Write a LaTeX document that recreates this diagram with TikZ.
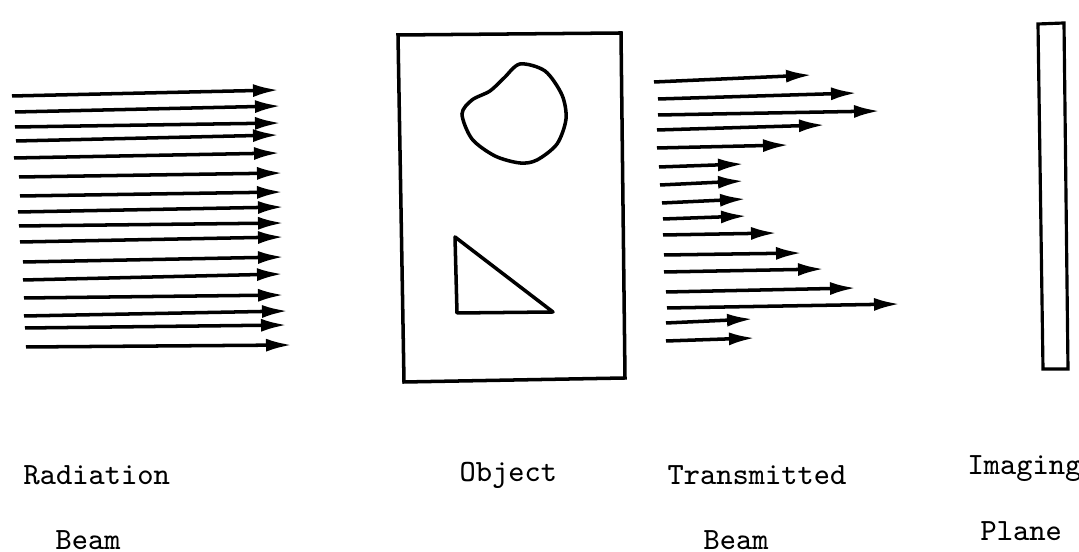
\documentclass[tikz,border=0pt]{standalone}
\usepackage{fontspec}
\usetikzlibrary{arrows.meta}
\begin{document}
\begin{tikzpicture}[>={Latex[length=2.6mm,width=1.3mm]},
	ray/.style={->, line width=1pt},
	txt/.style={font=\fontsize{8.8}{10}\ttfamily, inner sep=0pt, anchor=base west}]
	\useasboundingbox (0,0) rectangle (10.79,5.52);
	
	% Radiation beam
	\draw[ray] (0.12,4.56) -- (2.79,4.62);
	\draw[ray] (0.15,4.40) -- (2.81,4.46);
	\draw[ray] (0.15,4.25) -- (2.81,4.29);
	\draw[ray] (0.16,4.11) -- (2.79,4.17);
	\draw[ray] (0.14,3.94) -- (2.80,3.99);
	\draw[ray] (0.19,3.75) -- (2.83,3.79);
	\draw[ray] (0.20,3.56) -- (2.83,3.60);
	\draw[ray] (0.18,3.40) -- (2.84,3.45);
	\draw[ray] (0.19,3.26) -- (2.84,3.29);
	\draw[ray] (0.20,3.10) -- (2.84,3.15);
	\draw[ray] (0.23,2.90) -- (2.84,2.95);
	\draw[ray] (0.23,2.72) -- (2.83,2.78);
	\draw[ray] (0.24,2.54) -- (2.84,2.57);
	\draw[ray] (0.24,2.36) -- (2.88,2.41);
	\draw[ray] (0.25,2.24) -- (2.87,2.27);
	\draw[ray] (0.26,2.05) -- (2.92,2.07);
	\node[txt] (radtext) at (0.23,0.67) {Radiation};
	\node[txt] (radbeam) at (0.55,0.02) {Beam};
	
	% Object
	\draw[line width=1pt] (3.98,5.17) -- (6.21,5.19) -- (6.25,1.74) -- (4.04,1.70) -- cycle;
	\draw[line width=1pt] plot[smooth cycle] coordinates {(4.62,4.38) (4.72,4.52)
		(4.90,4.61) (5.04,4.74) (5.20,4.88) (5.45,4.81) (5.62,4.57) (5.66,4.33)
		(5.57,4.08) (5.37,3.92) (5.20,3.89) (4.95,3.96) (4.72,4.13)};
	\draw[line width=1pt, line join=round] (4.55,3.15) -- (4.57,2.39) -- (5.53,2.40) -- cycle;
	\node[txt] (objtext) at (4.59,0.70) {Object};
	
	% Transmitted beam
	\draw[ray] (6.54,4.70) -- (8.12,4.77);
	\draw[ray] (6.58,4.53) -- (8.57,4.59);
	\draw[ray] (6.58,4.37) -- (8.80,4.41);
	\draw[ray] (6.57,4.22) -- (8.25,4.27);
	\draw[ray] (6.57,4.04) -- (7.89,4.07);
	\draw[ray] (6.59,3.85) -- (7.44,3.88);
	\draw[ray] (6.60,3.67) -- (7.44,3.71);
	\draw[ray] (6.62,3.49) -- (7.46,3.53);
	\draw[ray] (6.63,3.33) -- (7.47,3.36);
	\draw[ray] (6.63,3.17) -- (7.77,3.19);
	\draw[ray] (6.64,2.97) -- (8.02,2.99);
	\draw[ray] (6.64,2.80) -- (8.24,2.83);
	\draw[ray] (6.66,2.60) -- (8.56,2.64);
	\draw[ray] (6.67,2.44) -- (9.00,2.48);
	\draw[ray] (6.66,2.29) -- (7.53,2.33);
	\draw[ray] (6.66,2.11) -- (7.55,2.14);
	\node[txt] (transtext) at (6.67,0.67) {Transmitted};
	\node[txt] (transbeam) at (7.03,0.02) {Beam};
	
	% Imaging plane
	\draw[line width=0.9pt] (10.38,5.28) -- (10.64,5.29) -- (10.68,1.83) -- (10.43,1.83) -- cycle;
	\node[txt] (imgtext) at (9.67,0.77) {Imaging};
	\node[txt] (imgplane) at (9.80,0.11) {Plane};
\end{tikzpicture}
\end{document}
